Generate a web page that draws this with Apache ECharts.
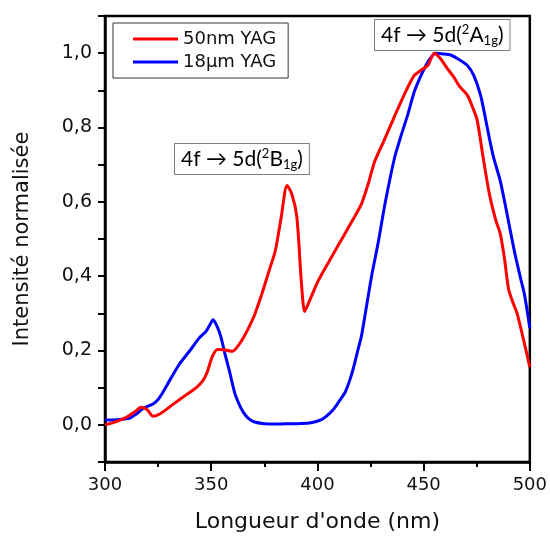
<!DOCTYPE html>
<html>
<head>
<meta charset="utf-8">
<script src="https://cdn.jsdelivr.net/npm/echarts@6/dist/echarts.min.js"></script>
<style>html,body{margin:0;padding:0;background:#fff}#c{width:550px;height:538px}</style>
</head>
<body>
<div id="c"></div>
<script>
var seriesNames = ['50nm YAG', '18µm YAG'];
var xTicks = [300, 350, 400, 450, 500];
var yTickLabels = [0, 0.2, 0.4, 0.6, 0.8, 1.0];

var redX = [300,305,310,314,317,320,322.6,326,332,338,343,346,348,350.6,353,356,360,363,366,370,374,377,380.2,383,385.7,388,390.3,392.5,394,396,400.5,405,409.8,415,420.7,424,427,431,436.3,441,445.6,449,452,455,458,461,464.3,467,470.6,473,475.2,478,481,484,486.1,488,490,492,494,497,500];
var redY = [0.0,0.008,0.02,0.035,0.047,0.04,0.023,0.03,0.055,0.08,0.1,0.118,0.14,0.185,0.203,0.202,0.198,0.215,0.243,0.29,0.355,0.41,0.469,0.56,0.644,0.62,0.56,0.38,0.305,0.33,0.389,0.435,0.483,0.535,0.594,0.65,0.709,0.76,0.83,0.89,0.94,0.955,0.967,1.0,0.985,0.96,0.935,0.91,0.887,0.855,0.82,0.72,0.62,0.55,0.514,0.45,0.365,0.33,0.30,0.23,0.155];

var blueX = [300,306,311.7,315,317.9,322.6,325,327.2,331,335,340,344.4,347.5,349,350.9,352.5,354.5,356.5,358.4,360,361.5,364,366.2,368.5,370.9,375,380,385,390,395,398,400.5,403,406,408.3,411,413,415.5,417.6,419,420.7,422.3,425.5,428.5,432,436.3,439.5,442.5,445.6,448,450.3,453,455.7,459,462.7,466,470.6,473.6,476.8,479.1,481,483,486.1,488.5,490.8,493,495.5,497.5,500];
var blueY = [0.013,0.014,0.018,0.03,0.044,0.056,0.068,0.087,0.125,0.163,0.2,0.234,0.251,0.265,0.283,0.268,0.238,0.19,0.149,0.11,0.078,0.045,0.025,0.013,0.007,0.003,0.002,0.003,0.003,0.004,0.007,0.011,0.018,0.032,0.047,0.07,0.087,0.125,0.167,0.2,0.238,0.291,0.4,0.487,0.6,0.718,0.78,0.834,0.896,0.93,0.958,0.985,1.0,0.998,0.995,0.985,0.967,0.94,0.887,0.825,0.77,0.718,0.656,0.59,0.523,0.46,0.398,0.35,0.26];

function pairs(xs, ys) { return xs.map(function (x, i) { return [x, ys[i]]; }); }

var chart = echarts.init(document.getElementById('c'), null, { renderer: 'canvas' });
var axisFont = 'DejaVu Sans';
var annotFont = 'Lato';

function annotRich() {
  return {
    n: { fontFamily: annotFont, fontSize: 21, color: '#111', lineHeight: 26, verticalAlign: 'middle' },
    s: { fontFamily: annotFont, fontSize: 13, color: '#111', lineHeight: 26, padding: [0, 0, 11, 0], verticalAlign: 'middle' },
    b: { fontFamily: annotFont, fontSize: 13, color: '#111', lineHeight: 26, padding: [11, 0, 0, 0], verticalAlign: 'middle' }
  };
}

chart.setOption({
  animation: false,
  backgroundColor: '#fff',
  grid: { left: 105, right: 17, top: 16, bottom: 72, show: true, borderColor: '#000', borderWidth: 2.5, backgroundColor: 'transparent' },
  legend: {
    show: true,
    data: seriesNames,
    orient: 'vertical',
    left: 113, top: 23,
    padding: [7, 12, 7, 20],
    itemGap: 5,
    itemWidth: 45, itemHeight: 3,
    icon: 'rect',
    borderColor: '#333', borderWidth: 1,
    textStyle: { fontFamily: axisFont, fontSize: 18, color: '#111', lineHeight: 18 }
  },
  xAxis: {
    type: 'value', min: 300, max: 500, interval: 50,
    name: 'Longueur d\'onde (nm)', nameLocation: 'middle', nameGap: 49,
    nameTextStyle: { fontFamily: axisFont, fontSize: 22, color: '#111' },
    axisLine: { show: true, onZero: false, lineStyle: { color: '#000', width: 2.5 } },
    axisTick: { show: true, length: 9, lineStyle: { color: '#000', width: 2 } },
    minorTick: { show: true, splitNumber: 2, length: 5, lineStyle: { color: '#000', width: 2 } },
    axisLabel: { fontFamily: axisFont, fontSize: 18, color: '#111', margin: 14, customValues: xTicks },
    splitLine: { show: false }
  },
  yAxis: {
    type: 'value', min: -0.1, max: 1.1, interval: 0.1,
    name: 'Intensité normalisée', nameLocation: 'middle', nameGap: 72,
    nameTextStyle: { fontFamily: axisFont, fontSize: 21, color: '#111' },
    axisLine: { show: true, onZero: false, lineStyle: { color: '#000', width: 2.5 } },
    axisTick: { show: true, length: 7, lineStyle: { color: '#000', width: 2 } },
    axisLabel: {
      fontFamily: axisFont, fontSize: 19, color: '#111', margin: 13,
      customValues: yTickLabels,
      formatter: function (v) { return v.toFixed(1).replace('.', ','); }
    },
    splitLine: { show: false }
  },
  series: [
    { name: seriesNames[0], type: 'line', data: pairs(redX, redY), showSymbol: false, symbol: 'none', smooth: 0.25, z: 3,
      lineStyle: { color: '#ff0000', width: 3 }, itemStyle: { color: '#ff0000' } },
    { name: seriesNames[1], type: 'line', data: pairs(blueX, blueY), showSymbol: false, symbol: 'none', smooth: 0.25, z: 2,
      lineStyle: { color: '#0000ff', width: 3 }, itemStyle: { color: '#0000ff' } }
  ],
  graphic: [
    { type: 'text', left: 374, top: 19, z: 10,
      style: { text: '{n|4f → 5d(}{s|2}{n|A}{b|1g}{n|)}', rich: annotRich(),
        backgroundColor: '#fff', borderColor: '#808080', borderWidth: 1, padding: [2, 6, 2, 6] } },
    { type: 'text', left: 174, top: 143, z: 10,
      style: { text: '{n|4f → 5d(}{s|2}{n|B}{b|1g}{n|)}', rich: annotRich(),
        backgroundColor: '#fff', borderColor: '#808080', borderWidth: 1, padding: [2, 6, 2, 6] } }
  ]
});
</script>
</body>
</html>
